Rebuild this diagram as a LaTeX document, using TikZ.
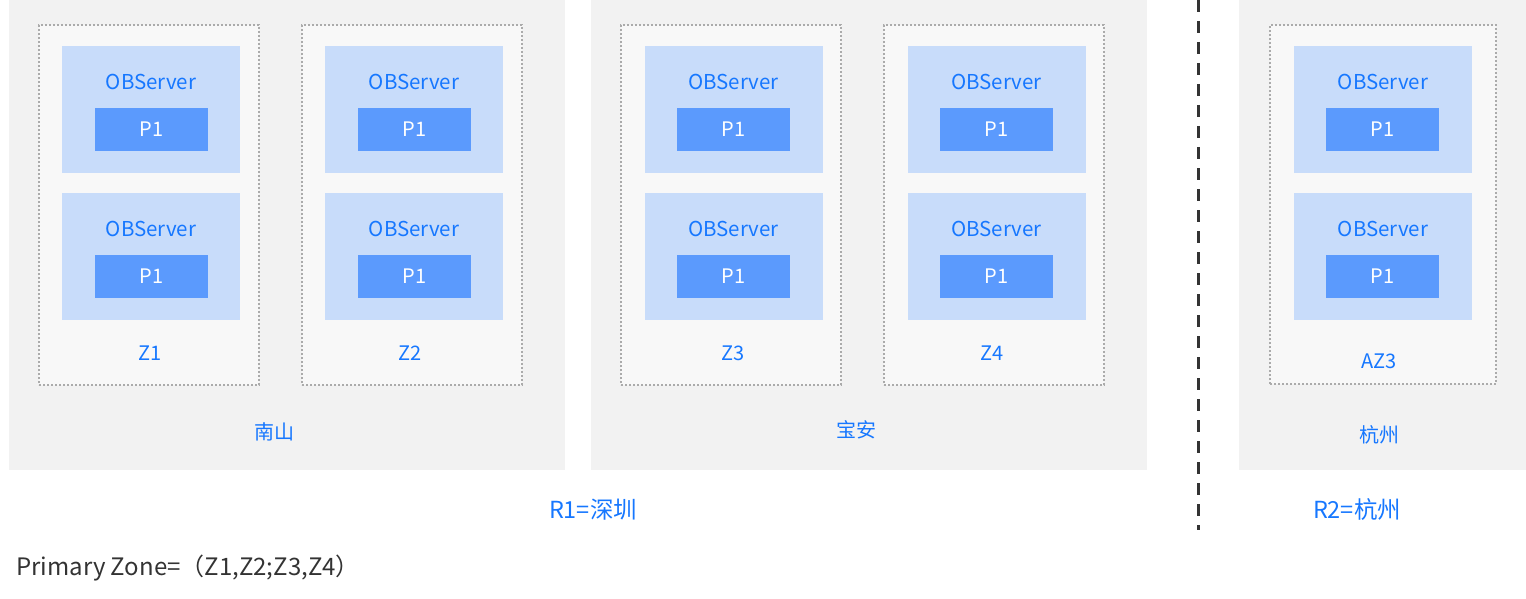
\documentclass[tikz,border=0pt]{standalone}
\usepackage{fontspec}
\setmainfont{Noto Sans CJK SC}
\usepackage{xcolor}
\usepackage{tikz}
\usetikzlibrary{
  positioning,
  calc
}

\definecolor{regionbg}{HTML}{F2F2F2}
\definecolor{zonebg}{HTML}{F8F8F8}
\definecolor{zoneline}{HTML}{ABABAB}
\definecolor{srvbg}{HTML}{C8DCFA}
\definecolor{partbg}{HTML}{5B9AFD}
\definecolor{obblue}{HTML}{1677FF}
\definecolor{darktext}{HTML}{333333}

\begin{document}
\begin{tikzpicture}[x=1pt,y=-1pt,
  region/.style={fill=regionbg,inner sep=0pt,minimum width=556pt,minimum height=470pt},
  zone/.style={fill=zonebg,draw=zoneline,line width=1.4pt,dash pattern=on 2pt off 2pt,
    inner sep=0pt,minimum width=220pt,minimum height=360pt},
  server/.style={fill=srvbg,inner sep=0pt,minimum width=178pt,minimum height=127pt,
    label={[srvtext,anchor=center,yshift=-36pt]north:OBServer}},
  part/.style={fill=partbg,text=white,font=\fontsize{20}{24}\selectfont,
    inner sep=0pt,minimum width=113pt,minimum height=43pt},
  srvtext/.style={text=obblue,font=\fontsize{20.5}{24}\selectfont,inner sep=0pt},
  lbl/.style={text=obblue,font=\fontsize{20}{24}\selectfont,inner sep=0pt},
  rlbl/.style={text=obblue,font=\fontsize{23.5}{28}\selectfont,inner sep=0pt}
]
  \useasboundingbox (0,0) rectangle (1526,599);

  % 区域
  \node[region] (nanshan) at (287,235) {};
  \node[region] (baoan) at (869,235) {};
  \node[region,minimum width=287pt] (hangzhou) at (1382.5,235) {};

  % 分隔线
  \coordinate (septop) at (1198,0);
  \coordinate (sepbot) at (1198,530);
  \draw[darktext,line width=3pt,dash pattern=on 12pt off 9pt] (septop)--(sepbot);

  % Zone
  \node[zone] (z1) at (149,205) {};
  \node[zone] (z2) at (412,205) {};
  \node[zone] (z3) at (731,205) {};
  \node[zone] (z4) at (994,205) {};
  \node[zone,minimum width=226pt,minimum height=359pt] (az3) at (1383,204.5) {};

  % OBServer と P1
  \node[server] (srv1a) at (151,109.5) {};
  \node[part] (part1a) at (151.5,129.5) {P1};
  \node[server] (srv1b) at (151,256.5) {};
  \node[part] (part1b) at (151.5,276.5) {P1};

  \node[server] (srv2a) at (414,109.5) {};
  \node[part] (part2a) at (414.5,129.5) {P1};
  \node[server] (srv2b) at (414,256.5) {};
  \node[part] (part2b) at (414.5,276.5) {P1};

  \node[server] (srv3a) at (733.5,109.5) {};
  \node[part] (part3a) at (733.5,129.5) {P1};
  \node[server] (srv3b) at (733.5,256.5) {};
  \node[part] (part3b) at (733.5,276.5) {P1};

  \node[server] (srv4a) at (996.5,109.5) {};
  \node[part] (part4a) at (996.5,129.5) {P1};
  \node[server] (srv4b) at (996.5,256.5) {};
  \node[part] (part4b) at (996.5,276.5) {P1};

  \node[server] (srv5a) at (1383,109.5) {};
  \node[part] (part5a) at (1382.5,129.5) {P1};
  \node[server] (srv5b) at (1383,256.5) {};
  \node[part] (part5b) at (1382.5,276.5) {P1};

  % ラベル
  \node[lbl] (z1lbl) at (150,353) {Z1};
  \node[lbl] (z2lbl) at (410,353) {Z2};
  \node[lbl] (z3lbl) at (733,353) {Z3};
  \node[lbl] (z4lbl) at (992,353) {Z4};
  \node[lbl] (az3lbl) at (1379,361) {AZ3};

  \node[lbl] (nslbl) at (274,432) {南山};
  \node[lbl] (balbl) at (856,430) {宝安};
  \node[lbl] (hzlbl) at (1379,435) {杭州};

  \node[rlbl] (r1lbl) at (593,510) {R1=深圳};
  \node[rlbl] (r2lbl) at (1357,510) {R2=杭州};

  \node[text=darktext,font=\fontsize{24}{28}\selectfont,inner sep=0pt,anchor=west]
    (pzone) at (16,568) {Primary Zone=（Z1,Z2;Z3,Z4）};
\end{tikzpicture}
\end{document}
